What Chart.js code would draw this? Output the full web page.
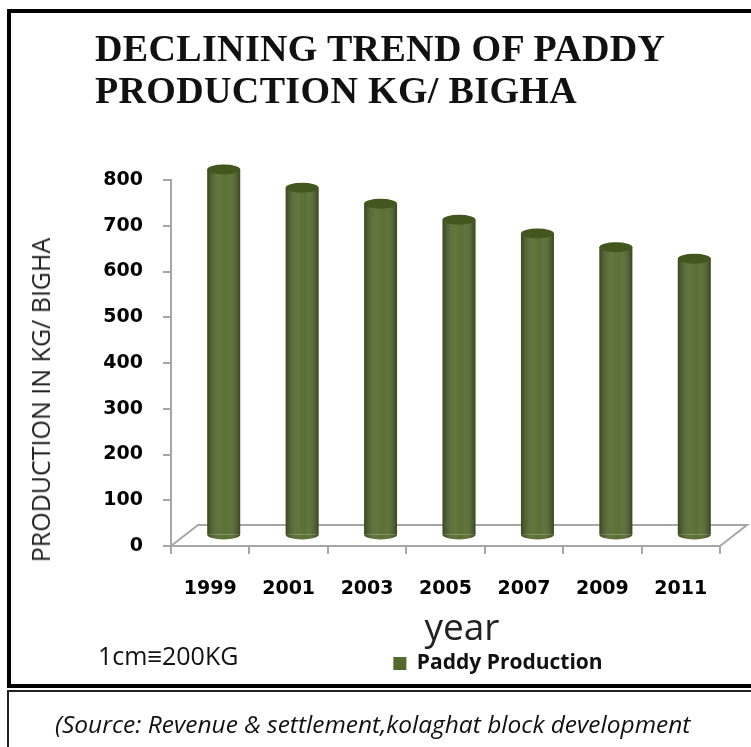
<!DOCTYPE html>
<html>
<head>
<meta charset="utf-8">
<script src="https://cdn.jsdelivr.net/npm/chart.js@4.4.1/dist/chart.umd.min.js"></script>
<style>
  html, body { margin: 0; padding: 0; background: #fff; }
  body { width: 751px; height: 747px; position: relative; overflow: hidden; }
  .box { position: absolute; box-sizing: border-box; }
  #chartBox { left: 7px; top: 9px; width: 900px; height: 679px; border: 4px solid #000; }
  #sourceBox { left: 7px; top: 690px; width: 900px; height: 100px; border: 2px solid #222; }
  canvas { position: absolute; left: 0; top: 0; }
  .txt { position: absolute; white-space: nowrap; color: #000; line-height: 1; }
  #title { left: 95px; top: 27px; font: bold 38px "Liberation Serif", serif; line-height: 42px; color: #111; letter-spacing: 0.35px; }
  #yTitle { left: 40px; top: 400px; font: 25px "Open Sans", sans-serif; color: #222;
            transform: translate(-50%, -50%) rotate(-90deg); }
  #xTitle { left: 462px; top: 600px; font: 37px "Open Sans", sans-serif; color: #222; transform: translateX(-50%); }
  #note { left: 98px; top: 638px; font: 25px "Open Sans", sans-serif; color: #111; }
  #source { left: 55px; top: 707px; font: italic 24.5px "Open Sans", sans-serif; color: #111; }
</style>
</head>
<body>
<div id="chartBox" class="box"></div>
<div id="sourceBox" class="box"></div>
<canvas id="paddyChart" width="751" height="747"></canvas>
<div id="title" class="txt">DECLINING TREND OF PADDY<br>PRODUCTION KG/ BIGHA</div>
<div id="yTitle" class="txt">PRODUCTION IN KG/ BIGHA</div>
<div id="xTitle" class="txt">year</div>
<div id="note" class="txt">1cm≡200KG</div>
<div id="source" class="txt">(Source: Revenue &amp; settlement,kolaghat block development</div>
<script>
// data
const years = ['1999', '2001', '2003', '2005', '2007', '2009', '2011'];
const paddyProduction = [800, 760, 725, 690, 660, 630, 605];
const seriesName = 'Paddy Production';
const yMin = 0;
const yMax = 800;
const yStep = 100;

const axisGrey = '#a6a6a6';
const barGreen = '#546a2c';
const depth = { dx: 27, dy: -21 };   // 3D floor offset
const legendCenterX = 498;

// floor + cylinder look for the bars
const cylinderPlugin = {
  id: 'cylinder',
  beforeDatasetsDraw(chart) {
    const { ctx, chartArea } = chart;
    const y0 = chart.scales.y.getPixelForValue(0);
    ctx.save();
    ctx.strokeStyle = axisGrey;
    ctx.lineWidth = 2;
    ctx.beginPath();
    ctx.moveTo(chartArea.left, y0);
    ctx.lineTo(chartArea.left + depth.dx, y0 + depth.dy);
    ctx.lineTo(chartArea.right + depth.dx, y0 + depth.dy);
    ctx.lineTo(chartArea.right, y0);
    ctx.stroke();
    ctx.restore();
    // bars sit half way back on the floor
    ctx.save();
    ctx.translate(depth.dx / 2, depth.dy / 2);
  },
  afterDatasetsDraw(chart) {
    const { ctx } = chart;
    chart.getDatasetMeta(0).data.forEach(bar => {
      const { x, y, base, width } = bar.getProps(['x', 'y', 'base', 'width'], true);
      const l = x - width / 2, r = x + width / 2, ry = 5;
      // rounded bottom
      ctx.fillStyle = barGreen;
      ctx.beginPath();
      ctx.ellipse(x, base, width / 2, ry, 0, 0, Math.PI);
      ctx.fill();
      // side shading
      const g = ctx.createLinearGradient(l, 0, r, 0);
      g.addColorStop(0, 'rgba(0,0,0,0.32)');
      g.addColorStop(0.45, 'rgba(255,255,255,0.06)');
      g.addColorStop(0.6, 'rgba(255,255,255,0.04)');
      g.addColorStop(1, 'rgba(0,0,0,0.34)');
      ctx.fillStyle = g;
      ctx.beginPath();
      ctx.moveTo(l, y);
      ctx.lineTo(l, base);
      ctx.ellipse(x, base, width / 2, ry, 0, Math.PI, 0, true);
      ctx.lineTo(r, y);
      ctx.closePath();
      ctx.fill();
      // top cap
      ctx.fillStyle = '#43561d';
      ctx.beginPath();
      ctx.ellipse(x, y, width / 2, ry, 0, 0, Math.PI * 2);
      ctx.fill();
    });
    ctx.restore();
  }
};

// move the legend under the plot like in the picture
const legendShift = {
  id: 'legendShift',
  afterLayout(chart) {
    const lg = chart.legend;
    const d = legendCenterX - (lg.left + lg.right) / 2;
    lg.left += d;
    lg.right += d;
  }
};

const tickFont = { family: 'DejaVu Sans', size: 19, weight: 'bold' };

new Chart(document.getElementById('paddyChart'), {
  type: 'bar',
  data: {
    labels: years,
    datasets: [{
      label: seriesName,
      data: paddyProduction,
      backgroundColor: barGreen,
      borderWidth: 0,
      barPercentage: 0.42,
      categoryPercentage: 1,
      clip: false
    }]
  },
  options: {
    responsive: false,
    animation: false,
    devicePixelRatio: 1,
    layout: { padding: { left: 104, right: 31, top: 180, bottom: 63 } },
    plugins: {
      title: { display: false },
      tooltip: { enabled: false },
      legend: {
        position: 'bottom',
        labels: {
          boxWidth: 13,
          boxHeight: 13,
          padding: 10,
          color: '#111',
          font: { family: 'Open Sans', size: 21, weight: 'bold' }
        }
      }
    },
    scales: {
      x: {
        afterFit(scale) { scale.height = 97; },
        grid: { display: true, drawOnChartArea: false, color: axisGrey, lineWidth: 2, tickLength: 8 },
        border: { display: true, color: axisGrey, width: 2 },
        ticks: { color: '#000', font: tickFont, padding: 24, maxRotation: 0 }
      },
      y: {
        min: yMin,
        max: yMax,
        afterFit(scale) { scale.width = 67; },
        grid: { display: true, drawOnChartArea: false, color: axisGrey, lineWidth: 2, tickLength: 8 },
        border: { display: true, color: axisGrey, width: 2 },
        ticks: { stepSize: yStep, color: '#000', font: tickFont, padding: 20 }
      }
    }
  },
  plugins: [cylinderPlugin, legendShift]
});
</script>
</body>
</html>
